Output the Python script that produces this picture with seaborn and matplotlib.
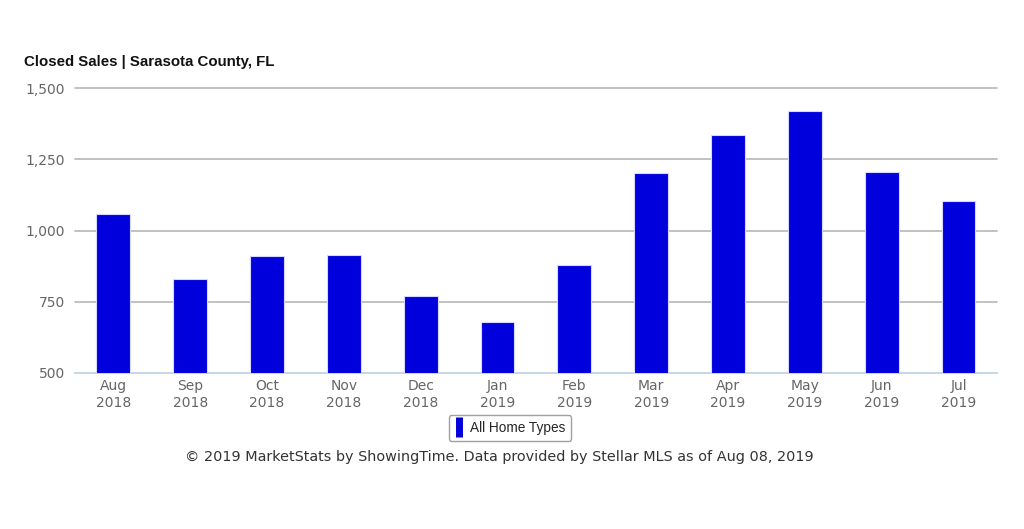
import pandas as pd
import seaborn as sns
import matplotlib.pyplot as plt
from matplotlib.lines import Line2D

months = ["Aug\n2018", "Sep\n2018", "Oct\n2018", "Nov\n2018", "Dec\n2018", "Jan\n2019",
          "Feb\n2019", "Mar\n2019", "Apr\n2019", "May\n2019", "Jun\n2019", "Jul\n2019"]
sales = [1059, 829, 909, 913, 771, 680, 879, 1203, 1335, 1420, 1206, 1105]
series = "All Home Types"
yticks = [500, 750, 1000, 1250, 1500]

df = pd.DataFrame({"month": months, "sales": sales, "type": series})

sns.set_style("white")
plt.rcParams["font.family"] = ["DejaVu Sans"]
bar_color = "#0000dd"

fig = plt.figure(figsize=(10.24, 5.29), dpi=100)
ax = fig.add_axes([0.0732, 0.2949, 0.9004, 0.5387])

sns.barplot(data=df, x="month", y="sales", color=bar_color, saturation=1, width=0.44,
            edgecolor="#d8d8ff", linewidth=0.8, ax=ax, zorder=3)

ax.set_xlim(-0.5, len(months) - 0.5)
ax.set_ylim(500, 1500)
ax.set_yticks(yticks)
ax.set_yticklabels([f"{v:,}" for v in yticks])
for v in yticks[1:]:
    ax.axhline(v, color="#bcbcbc", lw=1.3, zorder=1, clip_on=False)
ax.set_xlabel("")
ax.set_ylabel("")
for s in ["top", "right", "left"]:
    ax.spines[s].set_visible(False)
ax.spines["bottom"].set_color("#c3d3e3")
ax.spines["bottom"].set_linewidth(1.3)
ax.tick_params(axis="both", length=0, labelsize=10, colors="#666666")
ax.tick_params(axis="y", pad=7)
ax.tick_params(axis="x", pad=4)
for lab in ax.get_xticklabels():
    lab.set_linespacing(1.35)

fig.text(0.0234, 0.882, "Closed Sales | Sarasota County, FL", fontsize=10.8,
         fontweight="bold", family="Liberation Sans", color="#111111", va="center")

handle = Line2D([0], [0], linestyle="none", marker="|", markersize=15,
                markeredgewidth=5, color=bar_color)
leg = fig.legend([handle], [series], loc="center", bbox_to_anchor=(0.498, 0.191),
                 frameon=True, fancybox=True, handlelength=0.6, handletextpad=0.5,
                 borderpad=0.45, prop={"family": "Liberation Sans", "size": 9.8})
leg.get_frame().set_edgecolor("#888888")
leg.get_frame().set_linewidth(1.0)

fig.text(0.488, 0.137, "\u00a9 2019 MarketStats by ShowingTime. Data provided by Stellar MLS as of Aug 08, 2019",
         ha="center", va="center", fontsize=10.4, color="#333333")

fig.savefig("out.png", dpi=100, facecolor="white")
